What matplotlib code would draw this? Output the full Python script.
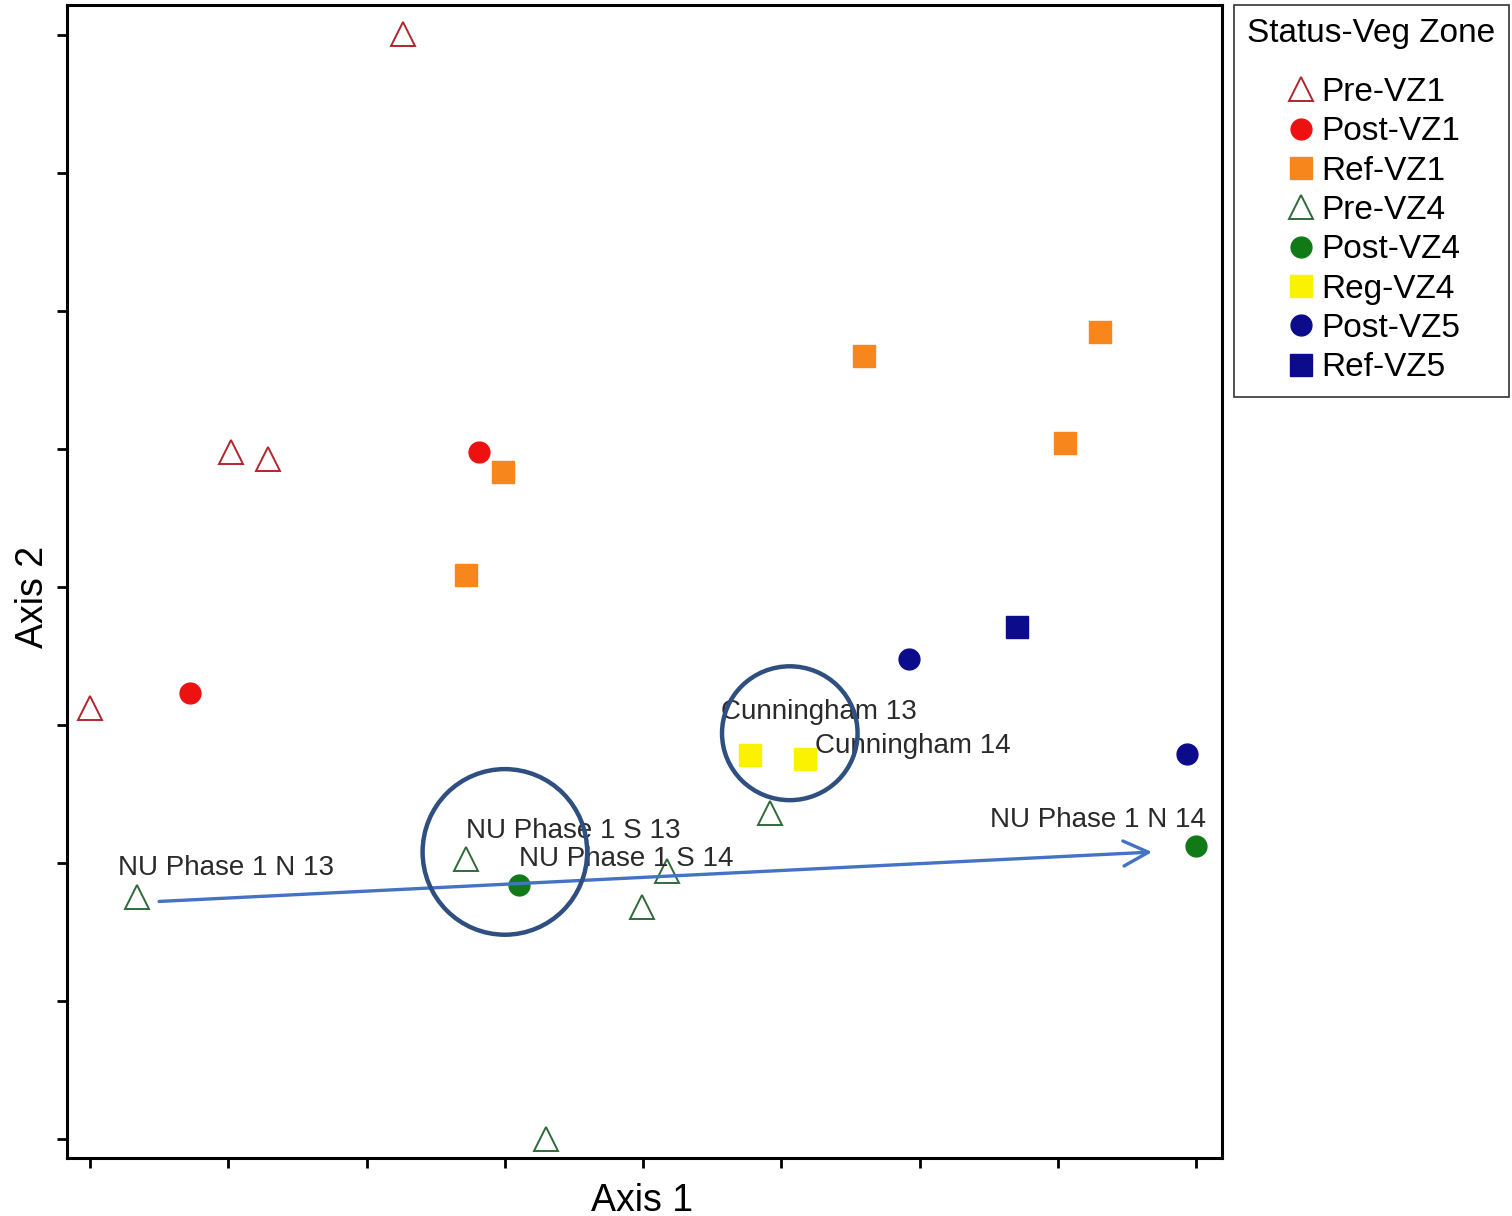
import matplotlib
matplotlib.use("Agg")
import matplotlib.pyplot as plt
from matplotlib.patches import Ellipse, FancyArrowPatch

plt.rcParams['font.family'] = ['Liberation Sans', 'DejaVu Sans']

# ---- data (axis units) ----
pre_vz1_x = [2.26, 1.02, 1.29, 0.00]
pre_vz1_y = [8.01, 4.98, 4.93, 3.12]
post_vz1_x = [2.81, 0.72]
post_vz1_y = [4.98, 3.23]
ref_vz1_x = [2.99, 2.72, 5.60, 7.30, 7.05]
ref_vz1_y = [4.83, 4.09, 5.67, 5.85, 5.04]
pre_vz4_x = [0.34, 2.72, 3.30, 3.99, 4.17, 4.92]
pre_vz4_y = [1.75, 2.03, 0.00, 1.68, 1.94, 2.36]
post_vz4_x = [3.10, 8.00]
post_vz4_y = [1.84, 2.12]
reg_vz4_x = [4.77, 5.17]
reg_vz4_y = [2.78, 2.75]
post_vz5_x = [5.92, 7.93]
post_vz5_y = [3.48, 2.79]
ref_vz5_x = [6.70]
ref_vz5_y = [3.71]

label_texts = ["NU Phase 1 N 13", "NU Phase 1 S 13", "NU Phase 1 S 14",
               "Cunningham 13", "Cunningham 14", "NU Phase 1 N 14"]
label_x = [0.20, 2.72, 3.10, 4.56, 5.24, 6.51]
label_y = [1.96, 2.23, 2.03, 3.095, 2.85, 2.31]

arrow_start = (0.48, 1.72)
arrow_end = (7.70, 2.08)
circle_centers = [(3.00, 2.08), (5.06, 2.94)]
circle_sizes = [(1.19, 1.20), (0.98, 0.97)]

legend_title = "Status-Veg Zone"

fig = plt.figure(figsize=(15.12, 12.16), dpi=100)
ax = fig.add_axes([67/1512, 1 - 1158/1216, (1222-67)/1512, (1158-5)/1216])

series = [
    ("Pre-VZ1", pre_vz1_x, pre_vz1_y, dict(marker='^', mfc='none', mec='#B0262B', ms=17, mew=1.4)),
    ("Post-VZ1", post_vz1_x, post_vz1_y, dict(marker='o', mfc='#EE1111', mec='#EE1111', ms=15, mew=1)),
    ("Ref-VZ1", ref_vz1_x, ref_vz1_y, dict(marker='s', mfc='#F7861C', mec='#F7861C', ms=16, mew=1)),
    ("Pre-VZ4", pre_vz4_x, pre_vz4_y, dict(marker='^', mfc='none', mec='#2E6B3A', ms=17, mew=1.4)),
    ("Post-VZ4", post_vz4_x, post_vz4_y, dict(marker='o', mfc='#117A17', mec='#117A17', ms=15, mew=1)),
    ("Reg-VZ4", reg_vz4_x, reg_vz4_y, dict(marker='s', mfc='#FAF200', mec='#FAF200', ms=16, mew=1)),
    ("Post-VZ5", post_vz5_x, post_vz5_y, dict(marker='o', mfc='#0B0B8C', mec='#0B0B8C', ms=15, mew=1)),
    ("Ref-VZ5", ref_vz5_x, ref_vz5_y, dict(marker='s', mfc='#0B0B8C', mec='#0B0B8C', ms=16, mew=1)),
]
handles = []
for name, xs, ys, st in series:
    h, = ax.plot(xs, ys, linestyle='none', label=name, zorder=3, **st)
    handles.append(h)

for t, x, y in zip(label_texts, label_x, label_y):
    ax.text(x, y, t, fontsize=20, color='#2a2a2a', va='center', ha='left', zorder=4)

ax.add_patch(FancyArrowPatch(arrow_start, arrow_end, arrowstyle='->,head_length=0.9,head_width=0.45',
                             color='#4472C4', lw=2.4, mutation_scale=20, zorder=5))
for (cx, cy), (w, hgt) in zip(circle_centers, circle_sizes):
    ax.add_patch(Ellipse((cx, cy), w, hgt, fill=False, ec='#2F4F80', lw=3.2, zorder=5))

ax.set_xlim(-0.166, 8.185)
ax.set_ylim(-0.138, 8.217)
ax.set_xticks(range(9))
ax.set_yticks(range(9))
ax.set_xticklabels([])
ax.set_yticklabels([])
ax.tick_params(direction='out', length=7, width=2, color='black')
for s in ax.spines.values():
    s.set_linewidth(2.2)
    s.set_color('black')

ax.set_xlabel("Axis 1", fontsize=27)
ax.set_ylabel("Axis 2", fontsize=27)
ax.xaxis.set_label_coords(0.498, -0.0215)
ax.yaxis.set_label_coords(-0.0135, 0.4866)

leg = fig.legend(handles=handles, title=legend_title, loc='upper left',
                 bbox_to_anchor=(1234/1512, 1 - 5/1216), fontsize=24, title_fontsize=24,
                 frameon=True, fancybox=False, edgecolor='black', borderpad=0.4,
                 labelspacing=0.25, handletextpad=0.05, handlelength=1.1, borderaxespad=0)
leg.get_frame().set_linewidth(1.2)
leg._legend_box.sep = 20

fig.savefig("out.png", dpi=100, facecolor='white')
